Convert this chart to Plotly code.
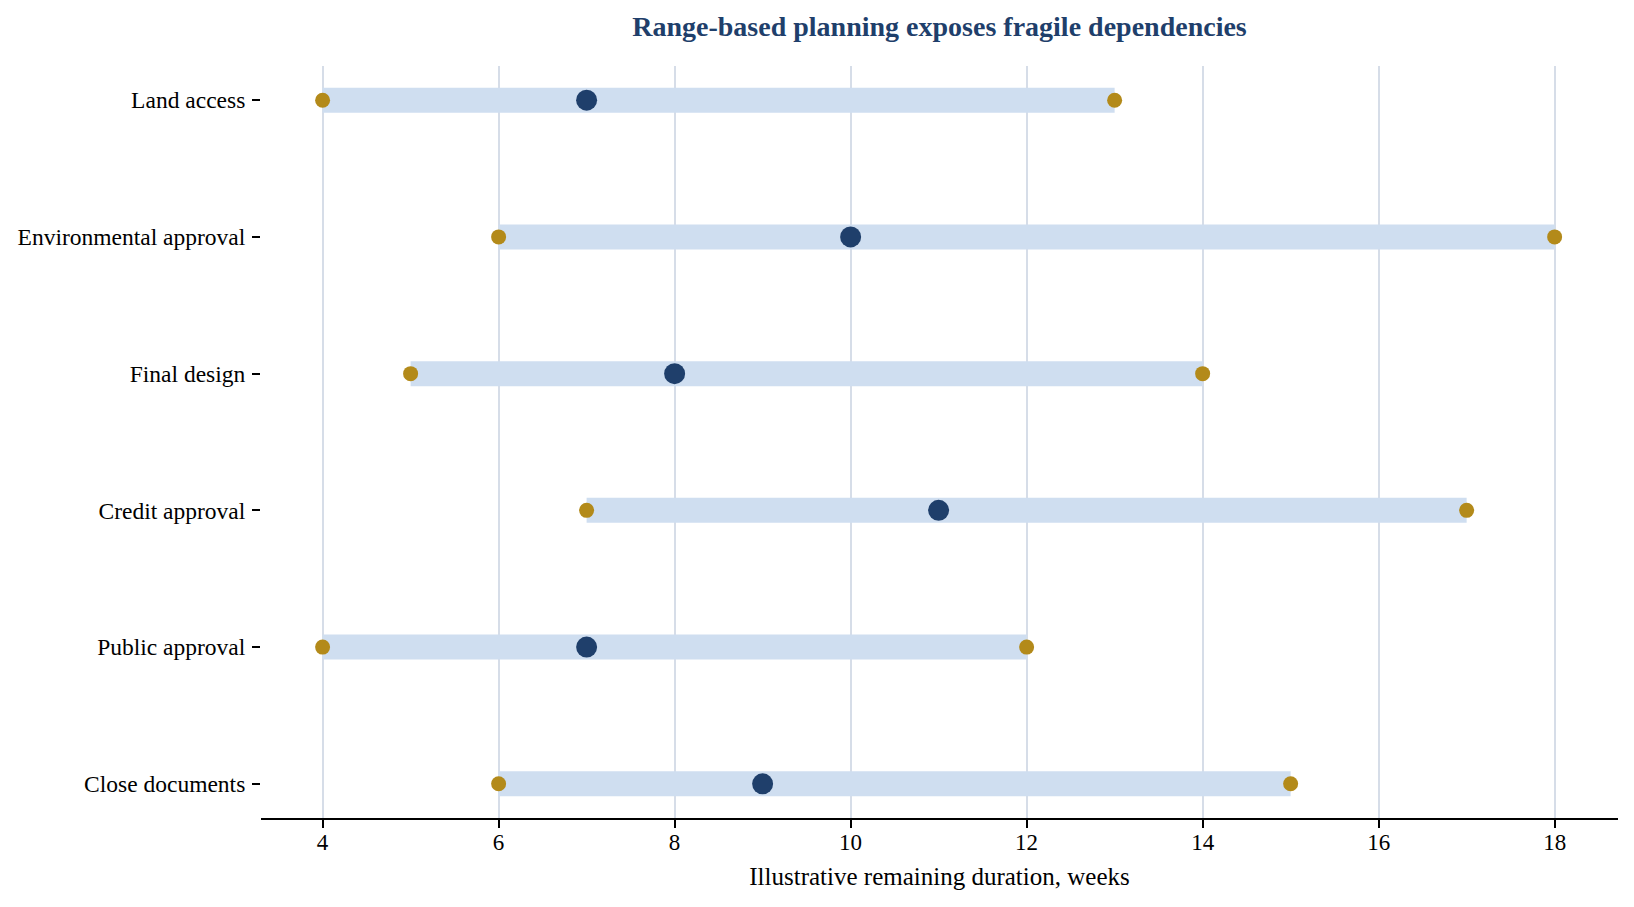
import plotly.graph_objects as go

# Task ranges, top to bottom as in the chart
tasks = ["Land access", "Environmental approval", "Final design",
         "Credit approval", "Public approval", "Close documents"]
low_weeks = [4, 6, 5, 7, 4, 6]
mid_weeks = [7, 10, 8, 11, 7, 9]
high_weeks = [13, 18, 14, 17, 12, 15]
x_ticks = [4, 6, 8, 10, 12, 14, 16, 18]

BAND = "#cfdef0"
GOLD = "#b38a1a"
NAVY = "#1f3f6b"
GRID = "#d6dde8"
FONT = "Liberation Serif, Times New Roman, serif"

# one line trace for all the bands, broken with None
band_x, band_y = [], []
for t, lo, hi in zip(tasks, low_weeks, high_weeks):
    band_x += [lo, hi, None]
    band_y += [t, t, None]

fig = go.Figure()

fig.add_trace(go.Scatter(
    x=band_x, y=band_y, mode="lines",
    line=dict(color=BAND, width=25),
    hoverinfo="skip", showlegend=False,
))

fig.add_trace(go.Scatter(
    x=low_weeks + high_weeks, y=tasks + tasks, mode="markers",
    marker=dict(color=GOLD, size=15, line=dict(width=0)),
    name="Range", showlegend=False,
))

fig.add_trace(go.Scatter(
    x=mid_weeks, y=tasks, mode="markers",
    marker=dict(color=NAVY, size=21, line=dict(width=0)),
    name="Most likely", showlegend=False,
))

# page body has an 8px margin, so the figure is a bit smaller than the window
fig.update_layout(
    width=1618, height=891,
    margin=dict(l=253, r=8, t=58, b=81),
    paper_bgcolor="white", plot_bgcolor="white",
    font=dict(family=FONT, size=23, color="black"),
    title=dict(
        text="<b>Range-based planning exposes fragile dependencies</b>",
        font=dict(family=FONT, size=28, color=NAVY),
        x=0.5, xref="paper", xanchor="center",
        y=1 - 18 / 891, yref="container", yanchor="middle",
    ),
)

fig.update_xaxes(
    range=[3.3, 18.72],
    tickvals=x_ticks,
    showgrid=True, gridcolor=GRID, gridwidth=2,
    zeroline=False,
    showline=True, linecolor="black", linewidth=2,
    ticks="outside", ticklen=8, tickwidth=2, tickcolor="black",
    tickfont=dict(size=23), ticklabelstandoff=-6,
    title=dict(text="Illustrative remaining duration, weeks",
               font=dict(size=25), standoff=14),
)

fig.update_yaxes(
    type="category",
    categoryorder="array", categoryarray=tasks[::-1],
    range=[-0.25, 5.25],
    showgrid=False, zeroline=False, showline=False,
    ticks="outside", ticklen=8, tickwidth=2, tickcolor="black",
    tickfont=dict(size=23.5), ticklabelstandoff=2,
)

fig.write_html("out.html")
